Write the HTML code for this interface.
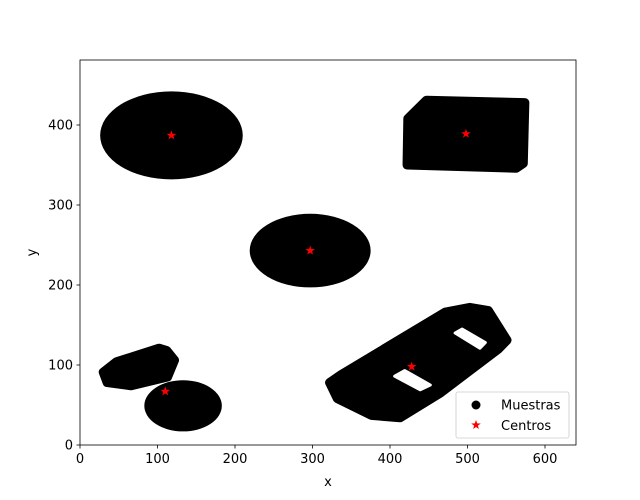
<!DOCTYPE html>
<html><head><meta charset="utf-8"><style>
body{margin:0;background:#fff;}
svg{display:block;font-family:"DejaVu Sans","Liberation Sans",sans-serif;}
</style></head><body>
<svg id="chart" width="640" height="500" viewBox="0 0 640 500"></svg>
<script>
const ellipseBlobs = [[118,387,92,55],[297,243,78,46],[133,49,50,32]];
const polyBlobs = [
 [[447,431],[574,428],[572,352],[563,346],[422,350],[423,408]],
 [[30,91],[47,104],[102,121],[112,118],[122,106],[113,85],[66,74],[35,78]],
 [[322,78],[337,88],[471,166],[503,172],[527,168],[551,131],[540,120],[465,65],[413,34],[376,37],[332,58]]
];
const holes = [
 [[406,86],[419,93],[452,75],[439,69]],
 [[484,140],[493,145],[523,128],[516,121]]
];
const centersX = [118,297,498,110,428];
const centersY = [387,243,389,67,98];
const xTicks = [0,100,200,300,400,500,600];
const yTicks = [0,100,200,300,400];

const L=80,T=60,W=496,H=385,XMAX=640,YMAX=481.25;
const sx=v=>L+v/XMAX*W, sy=v=>T+H-v/YMAX*H;
const svg=document.getElementById('chart');
const NS='http://www.w3.org/2000/svg';
function mk(tag,attrs,parent){const e=document.createElementNS(NS,tag);for(const k in attrs)e.setAttribute(k,attrs[k]);(parent||svg).appendChild(e);return e;}
const g=mk('g',{});


ellipseBlobs.forEach(b=>{
 const e=mk('ellipse',{cx:sx(b[0]),cy:sy(b[1]),rx:b[2]/XMAX*W,ry:b[3]/YMAX*H,fill:'#000'},g);
 
 
});
polyBlobs.forEach(p=>{
 const e=mk('polygon',{points:p.map(q=>sx(q[0])+','+sy(q[1])).join(' '),fill:'#000',stroke:'#000','stroke-width':9,'stroke-linejoin':'round'},g);
 
 
});
holes.forEach(p=>{
 const e=mk('polygon',{points:p.map(q=>sx(q[0])+','+sy(q[1])).join(' '),fill:'#fff',stroke:'#fff','stroke-width':3,'stroke-linejoin':'round'},g);
 
 
});
function star(cx,cy,r){let pts=[];for(let i=0;i<10;i++){const a=-Math.PI/2+i*Math.PI/5;const rr=i%2?r*0.4:r;pts.push((cx+rr*Math.cos(a)).toFixed(1)+','+(cy+rr*Math.sin(a)).toFixed(1));}return pts.join(' ');}
centersX.forEach((x,i)=>{
 const s=mk('polygon',{points:star(sx(x),sy(centersY[i]),5),fill:'#f00'});
 
 
});
const fr=mk('rect',{x:L,y:T,width:W,height:H,fill:'none',stroke:'#000','stroke-width':0.8});


xTicks.forEach(t=>{
 mk('line',{x1:sx(t),x2:sx(t),y1:T+H,y2:T+H+3.5,stroke:'#000','stroke-width':0.8});
 const tx=mk('text',{x:sx(t),y:T+H+18,'text-anchor':'middle','font-size':13});tx.textContent=t;
 
 
});
yTicks.forEach(t=>{
 mk('line',{x1:L-3.5,x2:L,y1:sy(t),y2:sy(t),stroke:'#000','stroke-width':0.8});
 const tx=mk('text',{x:L-7,y:sy(t)+4.5,'text-anchor':'end','font-size':13});tx.textContent=t;
 
 
});
const xl=mk('text',{x:L+W/2,y:486,'text-anchor':'middle','font-size':13});xl.textContent='x';


const yl=mk('text',{x:36,y:T+H/2,'text-anchor':'middle','font-size':13,transform:'rotate(-90 36 '+(T+H/2)+')'});yl.textContent='y';


const lg=mk('g',{});


mk('rect',{x:456,y:392,width:113,height:46,rx:2,fill:'#fff','fill-opacity':0.8,stroke:'#ccc','stroke-width':0.8},lg);
mk('circle',{cx:476,cy:405,r:4.5,fill:'#000'},lg);
const t1=mk('text',{x:501,y:409.5,'font-size':13},lg);t1.textContent='Muestras';


mk('polygon',{points:star(476,425,5),fill:'#f00'},lg);
const t2=mk('text',{x:501,y:430,'font-size':13},lg);t2.textContent='Centros';


</script>
</body></html>
